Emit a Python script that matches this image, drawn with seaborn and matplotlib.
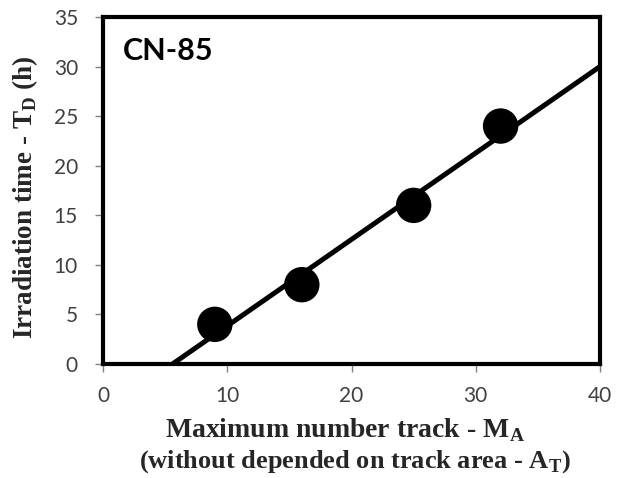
import matplotlib
matplotlib.use("Agg")
import matplotlib.pyplot as plt
import seaborn as sns
import numpy as np
import pandas as pd

# Data
max_tracks = [9, 16, 25, 32]
irr_time = [4, 8, 16, 24]
x_ticks = [0, 10, 20, 30, 40]
y_ticks = [0, 5, 10, 15, 20, 25, 30, 35]
label_text = "CN-85"

df = pd.DataFrame({"MA": max_tracks, "TD": irr_time})

sns.set_style("white")
plt.rcParams["font.family"] = ["Lato", "DejaVu Sans"]

fig = plt.figure(figsize=(6.18, 4.78), dpi=100)
ax = fig.add_axes([103/618, 1-364/478, (600-103)/618, (364-17)/478])
ax.set_xlim(0, 40)
ax.set_ylim(0, 35)

sns.regplot(data=df, x="MA", y="TD", ax=ax, ci=None, truncate=False,
            scatter_kws=dict(s=25.5**2, color="black", alpha=1, edgecolors="none", zorder=3),
            line_kws=dict(color="black", lw=3.6, alpha=1, solid_capstyle="butt", zorder=2))
ax.set_xlim(0, 40)
ax.set_ylim(0, 35)

ax.set_xticks(x_ticks)
ax.set_yticks(y_ticks)
ax.tick_params(axis="both", which="both", direction="out", length=6, width=1,
               color="#808080", labelsize=15, labelcolor="#404040",
               bottom=True, left=True)
ax.tick_params(axis="x", pad=10)
ax.tick_params(axis="y", pad=12)
for s in ax.spines.values():
    s.set_color("black")
    s.set_linewidth(3)

ax.set_xlabel("")
ax.set_ylabel("")
fig.text(25/618, 1-197/478, "Irradiation time - T$_\\mathregular{D}$ (h)", rotation=90,
         ha="center", va="center", fontfamily="Liberation Serif",
         fontweight="bold", fontsize=19.5)
ax.text(20/497, 1-(37-17)/347, label_text, transform=ax.transAxes, fontsize=22,
        fontweight="bold", va="top", ha="left", color="black")

fig.text(345/618, 1-437/478, "Maximum number track - M$_\\mathregular{A}$", ha="center",
         va="baseline", fontfamily="Liberation Serif", fontweight="bold", fontsize=20)
fig.text(355/618, 1-468/478, "(without depended on track area - A$_\\mathregular{T}$)",
         ha="center", va="baseline", fontfamily="Liberation Serif", fontweight="bold",
         fontsize=19)

fig.savefig("out.png", dpi=100, facecolor="white")
